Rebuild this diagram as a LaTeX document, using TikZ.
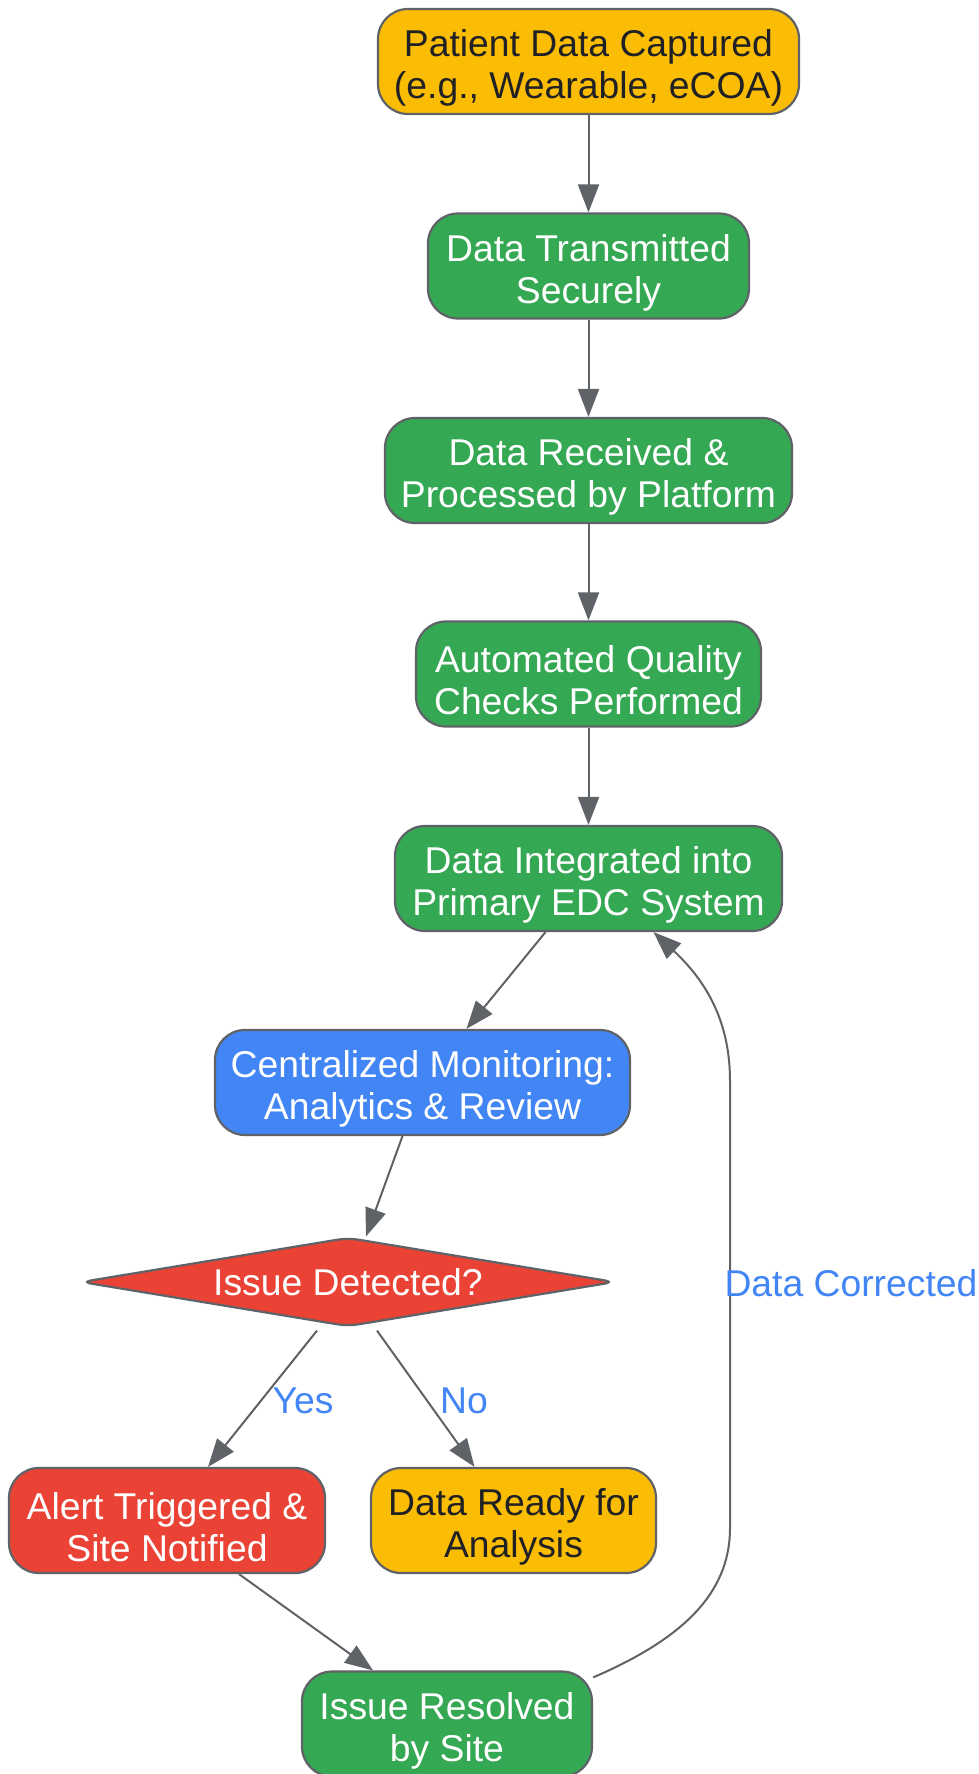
\documentclass[tikz,border=0pt]{standalone}
\usepackage{fontspec}
\setmainfont{Liberation Sans}
\usetikzlibrary{arrows.meta,shapes.geometric}
\definecolor{gyellow}{HTML}{FBBC04}
\definecolor{ggreen}{HTML}{34A853}
\definecolor{gblue}{HTML}{4285F4}
\definecolor{gred}{HTML}{EA4335}
\definecolor{gborder}{HTML}{5F6368}
\definecolor{gdark}{HTML}{202124}
\newcommand{\fstrut}{\rule{0pt}{40pt}}
\tikzset{
  box/.style={draw=gborder, line width=2.2pt, rounded corners=30pt, inner sep=0pt,
    align=center, font=\fontsize{37.3}{42}\selectfont, minimum height=105pt},
  yellowbox/.style={box, fill=gyellow, text=gdark},
  greenbox/.style={box, fill=ggreen, text=white},
  bluebox/.style={box, fill=gblue, text=white},
  redbox/.style={box, fill=gred, text=white},
  decision/.style={diamond, draw=gborder, line width=2.2pt, fill=gred, text=white,
    aspect=6, inner sep=0pt, minimum width=534pt, minimum height=89pt,
    rounded corners=10pt, font=\fontsize{37.3}{42}\selectfont},
  conn/.style={draw=gborder, line width=2pt, -{Triangle[length=28pt,width=21pt]}},
  elabel/.style={text=gblue, font=\fontsize{37.3}{42}\selectfont, inner sep=0pt}
}
\begin{document}
\begin{tikzpicture}[x=1pt,y=-1pt]
\useasboundingbox (0,0) rectangle (979,1774);
\node[yellowbox, minimum width=421pt] (cap) at (588.5,61.5) {\fstrut Patient Data Captured\\(e.g., Wearable, eCOA)};
\node[greenbox, minimum width=321pt] (tx) at (588.5,266) {\fstrut Data Transmitted\\Securely};
\node[greenbox, minimum width=407pt] (rx) at (588.5,470.5) {\fstrut Data Received \&\\Processed by Platform};
\node[greenbox, minimum width=345pt] (qc) at (588.5,674) {\fstrut Automated Quality\\Checks Performed};
\node[greenbox, minimum width=387pt] (int) at (588.5,878.5) {\fstrut Data Integrated into\\Primary EDC System};
\node[bluebox, minimum width=415pt] (cen) at (422.5,1082.5) {\fstrut Centralized Monitoring:\\Analytics \& Review};
\node[decision] (dia) at (348,1282) {Issue Detected?};
\node[redbox, minimum width=316pt] (alert) at (167,1520.5) {\fstrut Alert Triggered \&\\Site Notified};
\node[yellowbox, minimum width=285pt] (ready) at (513.5,1520.5) {\fstrut Data Ready for\\Analysis};
\node[greenbox, minimum width=290pt] (res) at (447,1724) {\fstrut Issue Resolved\\by Site};

\draw[conn] (cap) -- (tx);
\draw[conn] (tx) -- (rx);
\draw[conn] (rx) -- (qc);
\draw[conn] (qc) -- (int);
\draw[conn] ([xshift=-43pt]int.south) -- ([xshift=44pt]cen.north);
\draw[conn] ([xshift=-20pt]cen.south) -- ([xshift=18pt]dia.north);
\draw[conn] ([xshift=-31pt,yshift=-3pt]dia.south) -- ([xshift=41pt]alert.north);
\draw[conn] ([xshift=29pt,yshift=-3pt]dia.south) -- ([xshift=-39pt]ready.north);
\node[elabel] (yes) at (303,1401) {Yes};
\node[elabel] (no) at (464,1401) {No};
\draw[conn] ([xshift=72pt]alert.south) -- ([xshift=-74pt]res.north);
\coordinate (c1) at (730,1528);
\coordinate (c2) at (730,1081);
\draw[conn] ([yshift=-7pt]res.north east) .. controls (680,1640) and (730,1595) .. (c1)
  -- (c2) .. controls (730,1020) and (705,980) .. ([xshift=65pt]int.south);
\node[elabel] (dc) at (851,1283) {Data Corrected};
\end{tikzpicture}
\end{document}
